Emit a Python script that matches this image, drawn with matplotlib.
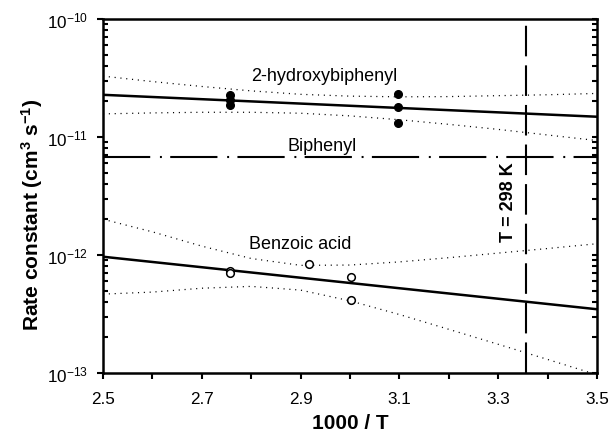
import matplotlib
matplotlib.use("Agg")
import matplotlib.pyplot as plt
from matplotlib.ticker import FixedLocator, FixedFormatter, LogLocator, NullFormatter, MultipleLocator

plt.rcParams['font.family'] = ['Liberation Sans', 'DejaVu Sans']
plt.rcParams['mathtext.default'] = 'regular'
plt.rcParams['lines.scale_dashes'] = False

# ---- data ----
x_range = [2.5, 3.5]

# 2-hydroxybiphenyl
hb_fit = [2.278e-11, 1.485e-11]
hb_x = [2.757, 2.757, 2.757, 3.098, 3.098, 3.098]
hb_k = [2.28e-11, 2.07e-11, 1.875e-11, 2.32e-11, 1.79e-11, 1.31e-11]
band_x = [2.5, 2.6, 2.7, 2.8, 2.9, 3.0, 3.1, 3.2, 3.3, 3.4, 3.5]
hb_upper = [3.28e-11, 2.95e-11, 2.68e-11, 2.46e-11, 2.30e-11, 2.22e-11,
            2.19e-11, 2.20e-11, 2.24e-11, 2.28e-11, 2.34e-11]
hb_lower = [1.57e-11, 1.60e-11, 1.62e-11, 1.62e-11, 1.59e-11, 1.51e-11,
            1.40e-11, 1.28e-11, 1.16e-11, 1.04e-11, 9.33e-12]

# Biphenyl
bp_k = [6.82e-12, 6.82e-12]

# Benzoic acid
ba_fit = [9.67e-13, 3.47e-13]
ba_x = [2.757, 2.757, 2.916, 3.003, 3.003]
ba_k = [7.25e-13, 7.0e-13, 8.38e-13, 6.56e-13, 4.16e-13]
ba_upper = [2.01e-12, 1.571e-12, 1.189e-12, 9.34e-13, 8.17e-13, 8.22e-13,
            8.74e-13, 9.49e-13, 1.038e-12, 1.135e-12, 1.246e-12]
ba_lower = [4.66e-13, 4.85e-13, 5.23e-13, 5.42e-13, 5.04e-13, 4.09e-13,
            3.13e-13, 2.345e-13, 1.751e-13, 1.303e-13, 9.66e-14]

T_ref = 298.0
x_ticks = [2.5, 2.7, 2.9, 3.1, 3.3, 3.5]
x_ticklabels = ['2.5', '2.7', '2.9', '3.1', '3.3', '3.5']
y_ticks = [1e-13, 1e-12, 1e-11, 1e-10]
y_ticklabels = ['$10^{-13}$', '$10^{-12}$', '$10^{-11}$', '$10^{-10}$']

# ---- figure ----
fig = plt.figure(figsize=(6.13, 4.35), dpi=100)
ax = fig.add_axes([103/613, 1-374/435, 494/613, 354/435])
ax.set_yscale('log')
ax.set_xlim(2.5, 3.5)
ax.set_ylim(1e-13, 1e-10)

# lines
ax.plot(x_range, hb_fit, color='black', lw=1.8, zorder=3)
ax.plot(band_x, hb_upper, color='black', lw=0.9, ls=(0, (0.8, 3.4)))
ax.plot(band_x, hb_lower, color='black', lw=0.9, ls=(0, (0.8, 3.4)))
ax.plot(hb_x, hb_k, 'o', color='black', ms=5.5, zorder=4)

ax.plot(x_range, bp_k, color='black', lw=1.5, ls=(0, (34, 7, 1.4, 6)))

ax.plot(x_range, ba_fit, color='black', lw=1.8, zorder=3)
ax.plot(band_x, ba_upper, color='black', lw=0.9, ls=(0, (0.8, 3.4)))
ax.plot(band_x, ba_lower, color='black', lw=0.9, ls=(0, (0.8, 3.4)))
ax.plot(ba_x, ba_k, 'o', mfc='white', mec='black', mew=1.1, ms=5.5, zorder=4)

ax.axvline(1000.0 / T_ref, color='black', lw=1.5, ls=(0, (22, 6.5)))

# texts
ax.text(2.947, 3.05e-11, '2-hydroxybiphenyl', ha='center', va='baseline', fontsize=13)
ax.text(2.943, 7.70e-12, 'Biphenyl', ha='center', va='baseline', fontsize=13)
ax.text(2.899, 1.137e-12, 'Benzoic acid', ha='center', va='baseline', fontsize=13)
ax.text(3.32, 2.84e-12, 'T = 298 K', ha='center', va='center', rotation=90,
        fontsize=13, fontweight='bold')

# axes styling
for s in ax.spines.values():
    s.set_linewidth(1.8)

ax.xaxis.set_major_locator(FixedLocator(x_ticks))
ax.xaxis.set_major_formatter(FixedFormatter(x_ticklabels))
ax.xaxis.set_minor_locator(MultipleLocator(0.1))
ax.tick_params(axis='x', which='both', direction='out', length=4.5, width=1.5,
               labelsize=12.3, top=False, pad=8.5)

ax.yaxis.set_major_locator(FixedLocator(y_ticks))
ax.yaxis.set_major_formatter(FixedFormatter(y_ticklabels))
ax.yaxis.set_minor_locator(LogLocator(base=10, subs=range(2, 10)))
ax.yaxis.set_minor_formatter(NullFormatter())
ax.tick_params(axis='y', which='major', direction='out', length=4.5, width=1.5,
               labelsize=12.3, right=False, pad=6.5)
ax.tick_params(axis='y', which='minor', direction='in', length=3.5, width=1.5,
               right=False)

ax2 = ax.twinx()
ax2.set_yscale('log')
ax2.set_ylim(1e-13, 1e-10)
ax2.yaxis.set_major_locator(FixedLocator(y_ticks))
ax2.yaxis.set_minor_locator(LogLocator(base=10, subs=range(2, 10)))
ax2.tick_params(axis='y', which='both', direction='in', length=3.5, width=1.5,
                labelright=False, left=False)
for s in ax2.spines.values():
    s.set_visible(False)

ax.set_xlabel('1000 / T', fontsize=15, fontweight='bold')
ax.xaxis.set_label_coords(0.5, -0.112)
fig.text(32/613, 1-215/435, 'Rate constant (cm$^{3}$ s$^{-1}$)', rotation=90,
         ha='center', va='center', fontsize=15, fontweight='bold')

fig.savefig('out.png', dpi=100)
